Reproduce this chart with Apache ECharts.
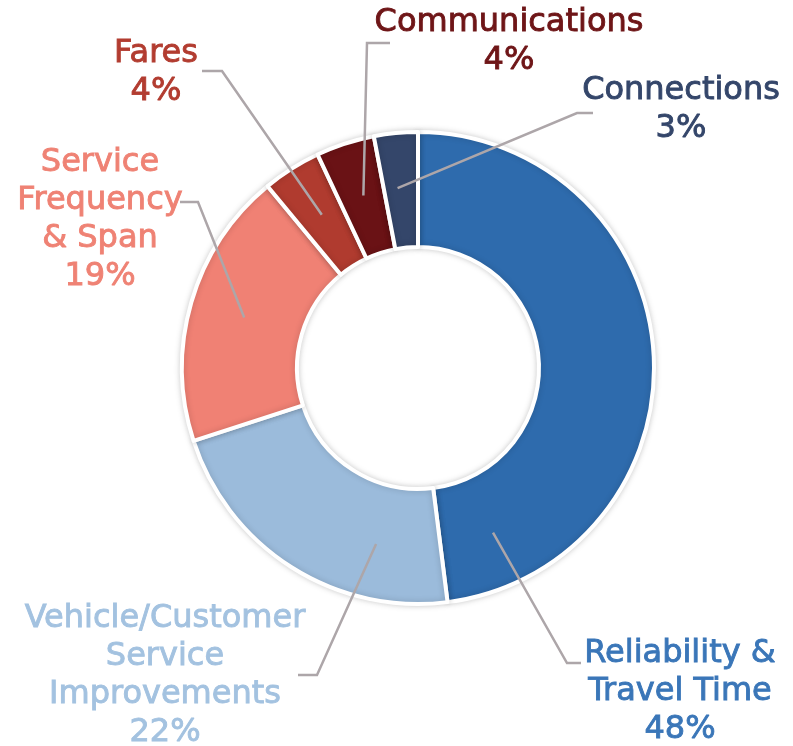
<!DOCTYPE html>
<html>
<head>
<meta charset="utf-8">
<script src="https://cdn.jsdelivr.net/npm/echarts@6/dist/echarts.min.js"></script>
<style>
  html, body { margin: 0; padding: 0; background: #fff; }
  #container { width: 793px; height: 746px; }
</style>
</head>
<body>
<div id="container"></div>
<script>
var categories = [
  "Reliability &\nTravel Time",
  "Vehicle/Customer\nService\nImprovements",
  "Service\nFrequency\n& Span",
  "Fares",
  "Communications",
  "Connections"
];
var shares = [48, 22, 19, 4, 4, 3];
var colors = ["#2E6BAD", "#9BBBDB", "#F08174", "#B03B2F", "#6A1215", "#34466A"];
var labelColors = ["#3A76B8", "#A3C2E0", "#EF8274", "#B23C30", "#6E1517", "#34466A"];

// label block centres and leader line elbows (layout only)
var labelPos = [[680, 692], [165, 676], [100, 220], [156, 73], [509, 42], [681, 110]];
var leaderEnds = [
  [[567, 663], [581, 663]],
  [[317, 675], [298, 675]],
  [[198, 202], [180, 202]],
  [[222, 71], [202, 71]],
  [[367, 43], [390, 43]],
  [[577, 113], [593, 113]]
];
// where in each slice the leader starts (fraction of its sweep)
var anchorFrac = [0.9, 0.26, 0.5, 0.52, 0.53, 0.4];

var cx = 418, cy = 368, rIn = 121, rOut = 236, rAnchor = 181;

var total = shares.reduce(function (a, b) { return a + b; }, 0);
var startAngles = [];
var acc = 0;
shares.forEach(function (v) { startAngles.push(acc / total * 360); acc += v; });

var dom = document.getElementById("container");
var myChart = echarts.init(dom, null, { renderer: "canvas" });

var option = {
  animation: false,
  textStyle: { fontFamily: "DejaVu Sans" },
  series: [
    {
      // the donut itself
      type: "pie",
      z: 2,
      center: [cx, cy],
      radius: [rIn, rOut],
      startAngle: 90,
      clockwise: true,
      itemStyle: {
        borderColor: "#fff",
        borderWidth: 4,
        shadowBlur: 6,
        shadowColor: "rgba(0,0,0,0.18)"
      },
      label: { show: false },
      labelLine: { show: false },
      emphasis: { disabled: true },
      data: categories.map(function (name, i) {
        return { name: name, value: shares[i], itemStyle: { color: colors[i] } };
      })
    },
    {
      // transparent copy on top, carries labels and leader lines
      type: "pie",
      z: 3,
      silent: true,
      center: [cx, cy],
      radius: [rIn, rOut],
      startAngle: 90,
      clockwise: true,
      avoidLabelOverlap: false,
      percentPrecision: 0,
      itemStyle: { color: "rgba(0,0,0,0)", borderWidth: 0 },
      label: {
        show: true,
        position: "outside",
        formatter: "{b}\n{d}%",
        fontSize: 32,
        lineHeight: 38,
        align: "center",
        textBorderWidth: 0.9
      },
      labelLine: {
        show: true,
        length: 10,
        length2: 10,
        lineStyle: { color: "#ADA6A9", width: 2.5 }
      },
      labelLayout: function (params) {
        var i = params.dataIndex;
        var theta = (startAngles[i] + anchorFrac[i] * shares[i] / total * 360) * Math.PI / 180;
        var start = [cx + rAnchor * Math.sin(theta), cy - rAnchor * Math.cos(theta)];
        return {
          x: labelPos[i][0],
          y: labelPos[i][1],
          align: "center",
          verticalAlign: "middle",
          labelLinePoints: [start, leaderEnds[i][0], leaderEnds[i][1]]
        };
      },
      emphasis: { disabled: true },
      data: categories.map(function (name, i) {
        return {
          name: name,
          value: shares[i],
          label: { color: labelColors[i], textBorderColor: labelColors[i] }
        };
      })
    }
  ]
};

myChart.setOption(option);
window.addEventListener("resize", myChart.resize);
</script>
</body>
</html>
